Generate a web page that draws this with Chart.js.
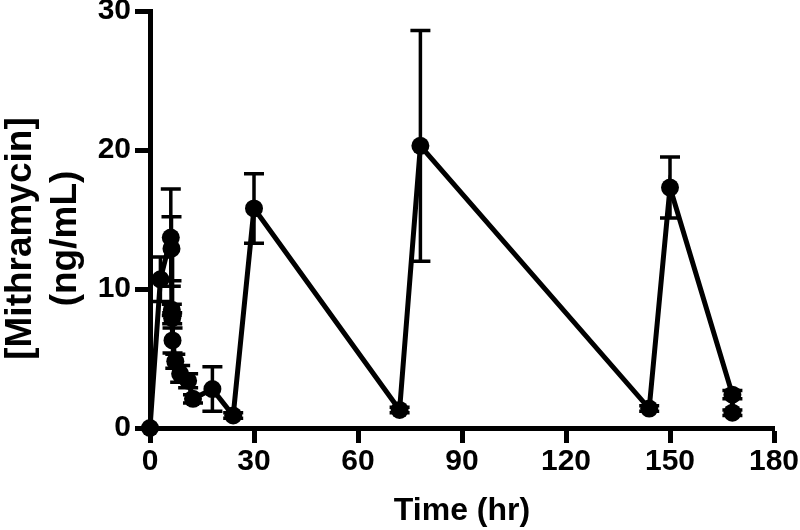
<!DOCTYPE html>
<html>
<head>
<meta charset="utf-8">
<title>Mithramycin concentration</title>
<script src="https://cdn.jsdelivr.net/npm/chart.js@4/dist/chart.umd.min.js"></script>
<style>
  body { margin: 0; background: #fff; }
  canvas { display: block; }
</style>
</head>
<body>
<canvas id="pkChart" width="800" height="530"></canvas>
<script>
// sampling times (hr), mean concentration (ng/mL) and error (+/-)
const times = [0, 3, 6, 6.2, 6.3, 6.4, 6.5, 7.3, 8.7, 11, 12.4, 18, 24, 30, 72, 78, 144, 150, 168, 168];
const conc  = [0, 10.7, 13.7, 12.9, 8.5, 7.9, 6.3, 4.8, 3.9, 3.4, 2.1, 2.8, 0.9, 15.8, 1.3, 20.3, 1.4, 17.3, 2.4, 1.1];
const sem   = [0, 1.6, 3.5, 2.3, 0.4, 0.4, 0.9, 0.5, 0.6, 0.5, 0.3, 1.6, 0.2, 2.5, 0.2, 8.3, 0.2, 2.2, 0.3, 0.2];

const xTicks = [0, 30, 60, 90, 120, 150, 180];
const yTicks = [0, 10, 20, 30];
const yTitleLines = ['[Mithramycin]', '(ng/mL)'];

const FONT = "'Liberation Sans', Arial, sans-serif";

// error bars drawn under the points
const errorBars = {
  id: 'errorBars',
  beforeDatasetsDraw(chart) {
    const ctx = chart.ctx;
    const x = chart.scales.x, y = chart.scales.y;
    ctx.save();
    ctx.strokeStyle = '#000';
    ctx.lineWidth = 3.5;
    times.forEach((t, i) => {
      if (!sem[i]) return;
      const px = x.getPixelForValue(t);
      const top = y.getPixelForValue(conc[i] + sem[i]);
      const bot = y.getPixelForValue(conc[i] - sem[i]);
      ctx.beginPath();
      ctx.moveTo(px, top); ctx.lineTo(px, bot);
      ctx.moveTo(px - 10, top); ctx.lineTo(px + 10, top);
      ctx.moveTo(px - 10, bot); ctx.lineTo(px + 10, bot);
      ctx.stroke();
    });
    ctx.restore();
  }
};

// y title sits a bit below the axis middle in the original, so draw it by hand
const yTitle = {
  id: 'yTitle',
  afterDraw(chart) {
    const ctx = chart.ctx;
    const area = chart.chartArea;
    const cy = (area.top + area.bottom) / 2 + 19;
    ctx.save();
    ctx.fillStyle = '#000';
    ctx.font = "bold 37px " + FONT;
    ctx.textAlign = 'center';
    ctx.textBaseline = 'middle';
    yTitleLines.forEach((line, i) => {
      ctx.save();
      ctx.translate(21 + i * 45, cy);
      ctx.rotate(-Math.PI / 2);
      ctx.fillText(line, 0, 0);
      ctx.restore();
    });
    ctx.restore();
  }
};

function axisStyle(ticksList) {
  return {
    type: 'linear',
    min: ticksList[0],
    max: ticksList[ticksList.length - 1],
    afterBuildTicks: scale => { scale.ticks = ticksList.map(v => ({ value: v })); },
    ticks: { color: '#000', font: { family: FONT, size: 30, weight: 'bold' }, padding: 4 },
    grid: { display: true, drawOnChartArea: false, drawTicks: true, tickLength: 15, tickWidth: 5, tickColor: '#000' },
    border: { display: true, color: '#000', width: 5 }
  };
}

const xAxis = axisStyle(xTicks);
xAxis.ticks.padding = 1;
xAxis.title = { display: true, text: 'Time (hr)', color: '#000', font: { family: FONT, size: 32, weight: 'bold' }, padding: 0 };
xAxis.afterFit = scale => {
  scale.height = 102;
  scale.paddingLeft = 0;
  scale.paddingRight = 0;
};

const yAxis = axisStyle(yTicks);
yAxis.afterFit = scale => {
  scale.width = 150;
  scale.paddingTop = 0;
  scale.paddingBottom = 0;
};

new Chart(document.getElementById('pkChart'), {
  type: 'scatter',
  data: {
    datasets: [{
      data: times.map((t, i) => ({ x: t, y: conc[i] })),
      showLine: true,
      borderColor: '#000',
      borderWidth: 5,
      pointRadius: 9,
      pointBackgroundColor: '#000',
      pointBorderWidth: 0,
      clip: false
    }]
  },
  options: {
    responsive: false,
    animation: false,
    layout: { padding: { top: 11, right: 26, left: 0, bottom: 0 } },
    plugins: { legend: { display: false }, tooltip: { enabled: false } },
    scales: { x: xAxis, y: yAxis }
  },
  plugins: [errorBars, yTitle]
});
</script>
</body>
</html>
